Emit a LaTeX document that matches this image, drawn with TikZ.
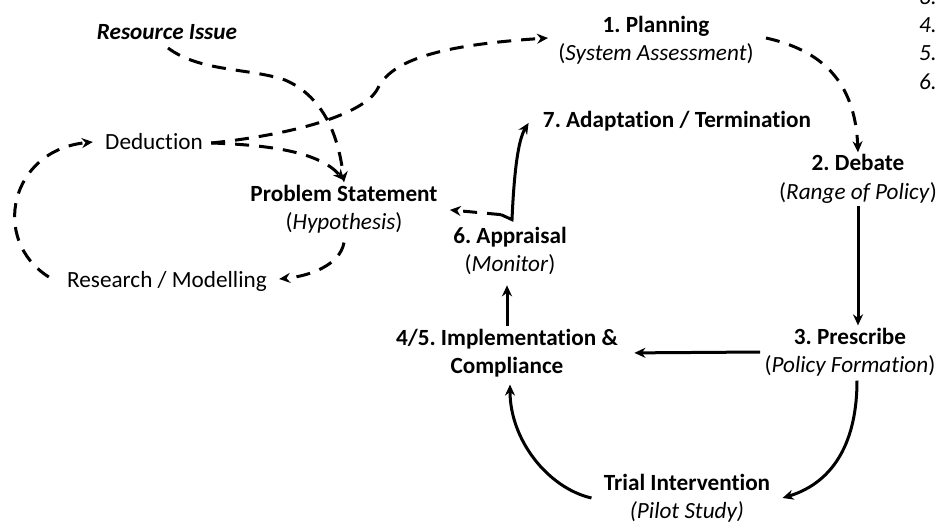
\documentclass[tikz,border=0pt]{standalone}
\usepackage{fontspec}
\setmainfont{Carlito}[Ligatures=NoCommon]
\usetikzlibrary{arrows.meta,calc}
\frenchspacing
\begin{document}
\begin{tikzpicture}[x=0.5bp,y=-0.5bp,
  lbl/.style={align=center,inner sep=1bp,font=\fontsize{11.6bp}{14.2bp}\selectfont\frenchspacing},
  solidarr/.style={line width=1.5bp,-{Stealth[length=5.5bp,width=5bp]}},
  dasharr/.style={line width=1.5bp,dash pattern=on 7bp off 5bp,-{Stealth[length=5.5bp,width=5bp]}}]
\useasboundingbox (0,0) rectangle (944,522);
% nodes
\node[lbl] (res) at (167,32) {\textbf{\textit{Resource Issue}}};
\node[lbl] (plan) at (656,40) {\textbf{1. Planning}\\(\textit{System Assessment})};
\node[lbl] (adapt) at (677,121) {\textbf{7. Adaptation / Termination}};
\node[lbl] (deb) at (858,179) {\textbf{2. Debate}\\(\textit{Range of Policy})};
\node[lbl] (ded) at (154,142) {Deduction};
\node[lbl] (ps) at (344,209) {\textbf{Problem Statement}\\(\textit{Hypothesis})};
\node[lbl] (app) at (510,251) {\textbf{6. Appraisal}\\(\textit{Monitor})};
\node[lbl] (rm) at (167,281) {Research / Modelling};
\node[lbl] (impl) at (507,353) {\textbf{4/5. Implementation \&}\\\textbf{Compliance}};
\node[lbl] (pres) at (850,352) {\textbf{3. Prescribe}\\(\textit{Policy Formation})};
\node[lbl] (trial) at (687,498) {\textbf{Trial Intervention}\\\textit{(Pilot Study)}};
\node[lbl] (n3) at (928,-3) {\textit{3.}};
\node[lbl] (n4) at (928,25) {\textit{4.}};
\node[lbl] (n5) at (928,53) {\textit{5.}};
\node[lbl] (n6) at (928,82) {\textit{6.}};
% connectors
\draw[dasharr] ($(res.south)+(1,6)$) .. controls (200,72) and (250,68) .. (285,80) .. controls (320,95) and (338,130) .. (ps.north);
\draw[dasharr] ($(ded.east)+(6,1)$) .. controls (270,145) and (320,152) .. ($(ps.north)+(0,-2)$);
\draw[dasharr] ($(ded.east)+(6,1)$) .. controls (290,135) and (365,115) .. (378,88) .. controls (392,60) and (440,45) .. ($(plan.west)+(-8,-2)$);
\draw[dasharr] ($(plan.east)+(10,-2)$) .. controls (820,50) and (855,80) .. (deb.north);
\draw[solidarr] (deb.south) -- (deb.south |- pres.north);
\draw[solidarr,shorten >=7bp,shorten <=1bp] (pres.west) -- (impl.east);
\draw[solidarr] ($(pres.south)+(7,2)$) .. controls (857,440) and (835,482) .. ($(trial.east)+(10,0)$);
\draw[solidarr] ($(trial.west)+(-10,0)$) .. controls (548,488) and (510,440) .. ($(impl.south)+(3,5)$);
\draw[solidarr,shorten >=4bp] (impl.north) -- (impl.north |- app.south);
\coordinate (J) at ($(app.north)+(2,-5)$);
\coordinate (Jh) at ($(app.north)+(-9,-10)$);
\draw[dasharr,shorten >=5bp] (Jh) -- (ps.east);
\draw[solidarr] (Jh) -- (J) .. controls ($(J)+(2,-46)$) and (518,140) .. ($(adapt.west)+(-12,2)$);
\draw[dasharr] ($(ps.south)+(0,7)$) .. controls (340,265) and (310,276) .. ($(rm.east)+(10,-2)$);
\draw[dasharr] ($(rm.west)+(-16,-4)$) .. controls (-10,240) and (10,150) .. ($(ded.west)+(-10,0)$);
\end{tikzpicture}
\end{document}
